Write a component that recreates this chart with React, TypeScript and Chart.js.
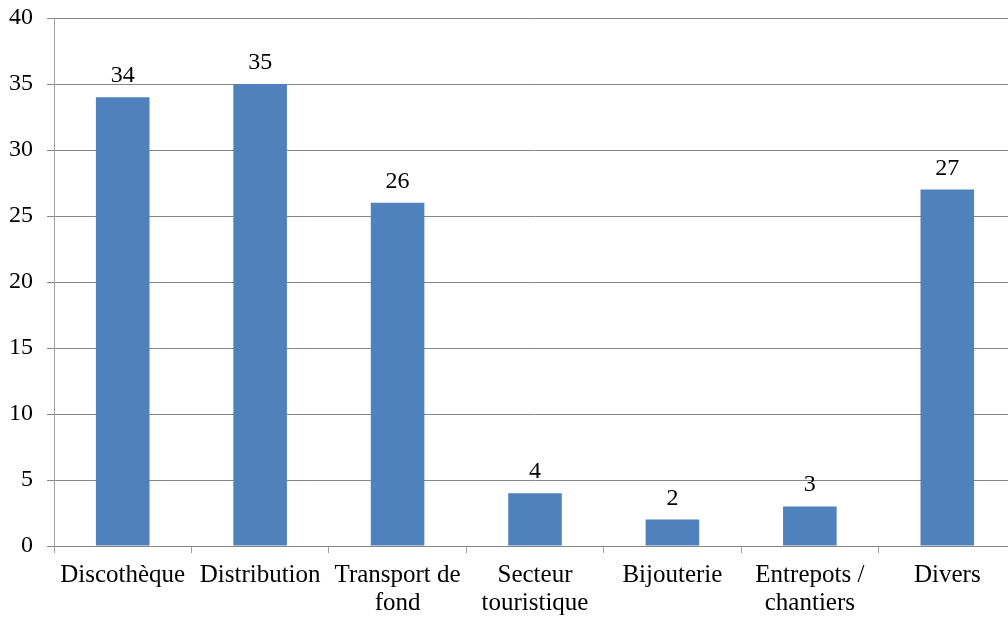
import React, { useEffect, useRef } from "react";
import { Chart, registerables } from "chart.js";

Chart.register(...registerables);

const categories: (string | string[])[] = [
  "Discothèque",
  "Distribution",
  ["Transport de", "fond"],
  ["Secteur", "touristique"],
  "Bijouterie",
  ["Entrepots /", "chantiers"],
  "Divers",
];
const values: number[] = [34, 35, 26, 4, 2, 3, 27];
const yTicks: number[] = [0, 5, 10, 15, 20, 25, 30, 35, 40];

const FONT = "'Liberation Serif', 'Times New Roman', serif";

const dataLabels = {
  id: "dataLabels",
  afterDatasetsDraw(chart: any) {
    const ctx = chart.ctx;
    const meta = chart.getDatasetMeta(0);
    ctx.save();
    ctx.font = `24px ${FONT}`;
    ctx.fillStyle = "#000";
    ctx.textAlign = "center";
    ctx.textBaseline = "alphabetic";
    meta.data.forEach((el: any, i: number) => {
      ctx.fillText(String(values[i]), el.x, el.y - 15);
    });
    ctx.restore();
  },
};

export default function App() {
  const ref = useRef<HTMLCanvasElement | null>(null);
  useEffect(() => {
    if (!ref.current) return;
    const chart = new Chart(ref.current, {
      type: "bar",
      data: {
        labels: categories,
        datasets: [
          {
            data: values,
            backgroundColor: "#4F81BD",
            borderWidth: 0,
            barPercentage: 0.39,
            categoryPercentage: 1,
          },
        ],
      },
      options: {
        animation: false,
        responsive: false,
        layout: { padding: { top: 18, left: 0, right: 0, bottom: 0 } },
        plugins: { legend: { display: false }, tooltip: { enabled: false } },
        scales: {
          x: {
            offset: true,
            grid: {
              offset: true,
              drawOnChartArea: false,
              drawTicks: true,
              tickLength: 7,
              color: "#a0a0a0",
            },
            border: { color: "#868686" },
            ticks: {
              color: "#000",
              font: { family: FONT, size: 25, lineHeight: 1.12 },
              padding: 8,
              maxRotation: 0,
              autoSkip: false,
            },
            afterFit: (s: any) => {
              s.height = 72;
              s.paddingLeft = 0;
              s.paddingRight = 0;
            },
          },
          y: {
            min: 0,
            max: 40,
            afterBuildTicks: (s: any) => {
              s.ticks = yTicks.map((v) => ({ value: v }));
            },
            grid: { color: "#868686", tickLength: 7 },
            border: { color: "#a0a0a0" },
            ticks: {
              color: "#000",
              font: { family: FONT, size: 24 },
              padding: 14,
            },
            afterFit: (s: any) => {
              s.width = 54;
              s.paddingTop = 0;
              s.paddingBottom = 0;
            },
          },
        },
      },
      plugins: [dataLabels],
    });
    return () => chart.destroy();
  }, []);
  return (
    <div
      style={{
        position: "absolute",
        left: 0,
        top: 0,
        width: 1008,
        height: 618,
        overflow: "hidden",
        background: "#fff",
      }}
    >
      <canvas ref={ref} width={1016} height={618} style={{ display: "block" }} />
    </div>
  );
}
